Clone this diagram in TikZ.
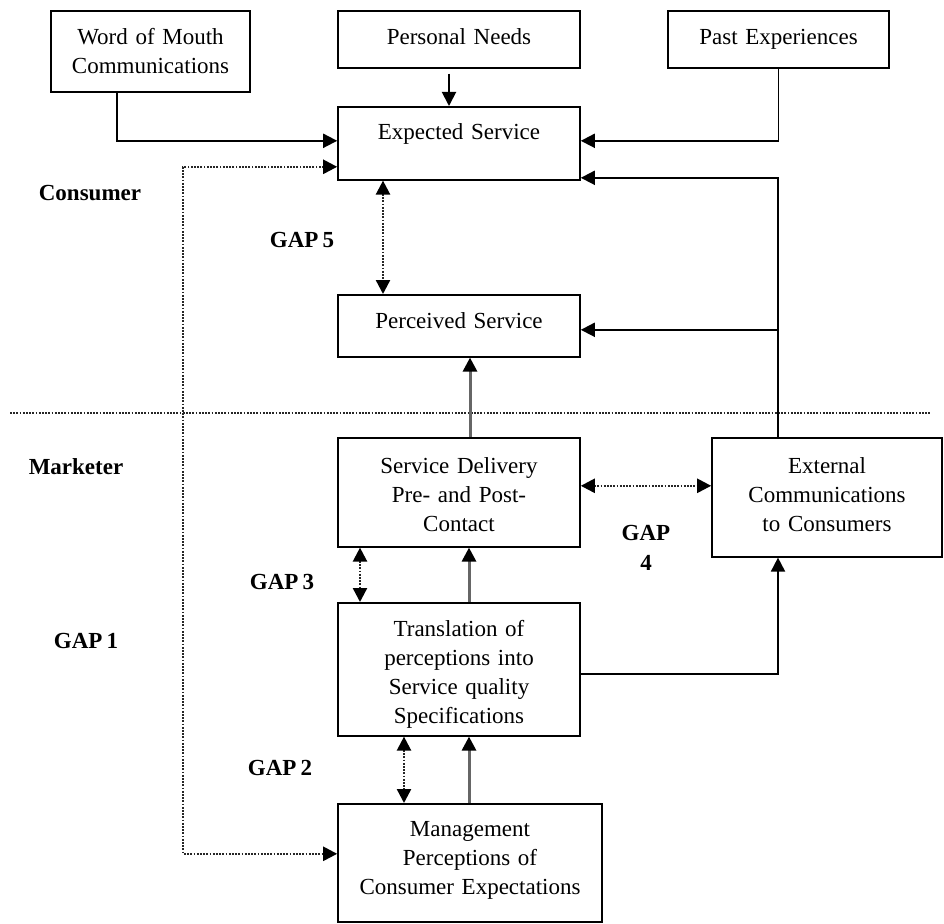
\documentclass[tikz,border=0pt]{standalone}
\usepackage{fontspec}
\setmainfont[WordSpace=0.7]{Liberation Serif}
\usetikzlibrary{arrows.meta,calc}
\begin{document}
\begin{tikzpicture}[x=1pt,y=-1pt,
  every node/.style={font=\fontsize{23}{29}\selectfont},
  box/.style={draw, line width=1.6pt, inner sep=0pt, align=center, anchor=north},
  tag/.style={font=\fontsize{23}{30}\selectfont\bfseries, inner sep=0pt, align=center},
  link/.style={line width=1.9pt, -{Triangle[length=14pt,width=14pt,color=black]}},
  glink/.style={line width=3pt, draw=black!60, -{Triangle[length=14pt,width=14pt,color=black]}},
  dots/.style={line width=2.4pt, draw=black!85, dash pattern=on 1.8pt off 1.4pt},
  gap/.style={dots,
    {Triangle[length=14pt,width=14pt,color=black]}-{Triangle[length=14pt,width=14pt,color=black]}},
]
\useasboundingbox (0,0) rectangle (944,923);

% consumer side
\node[box, text width=199pt, text height=33.5pt, text depth=47.5pt] (wom) at (150.5,10) {Word of Mouth\\Communications};
\node[box, text width=242pt, text height=33.5pt, text depth=23.5pt] (pn) at (459,10) {Personal Needs};
\node[box, text width=221pt, text height=33.5pt, text depth=23.5pt] (pe) at (778.5,10) {Past Experiences};
\node[box, text width=242pt, text height=32.5pt, text depth=40.5pt] (exp) at (459,106) {Expected Service};
\node[box, text width=242pt, text height=33.5pt, text depth=28.5pt] (per) at (459,294) {Perceived Service};

% marketer side
\node[box, text width=242pt, text height=35.5pt, text depth=73.5pt] (sd) at (459,437) {Service Delivery\\Pre- and Post-\\Contact};
\node[box, text width=230pt, text height=35.5pt, text depth=83.5pt] (ext) at (827,437) {External\\Communications\\to Consumers};
\node[box, text width=242pt, text height=33.5pt, text depth=99.5pt] (tr) at (459,602) {Translation of\\perceptions into\\Service quality\\Specifications};
\node[box, text width=264pt, text height=32.5pt, text depth=85.5pt] (mg) at (470,803) {Management\\Perceptions of\\Consumer Expectations};

% labels
\node[tag] (consumer) at (90,193) {Consumer};
\node[tag] (marketer) at (76,467) {Marketer};
\node[tag] (gap5) at (302,240) {GAP 5};
\node[tag] (gap1) at (86,641) {GAP 1};
\node[tag] (gap3) at (282,582) {GAP 3};
\node[tag] (gap2) at (280,768) {GAP 2};
\node[tag] (gap4) at (646,548) {GAP\\4};

% separator between consumer and marketer
\coordinate (sepL) at (10,413);
\coordinate (sepR) at (930,413);
\draw[dots] (sepL) -- (sepR);

% inputs to expected service
\draw[link] ($(wom.south)+(-33.5,0)$) |- ($(exp.west)+(0,-2.5)$);
\draw[link] ($(pn.south)+(-10,5)$) -- ($(exp.north)+(-10,0)$);
\draw[link] (pe.south) |- ($(exp.east)+(0,-2.5)$);
\draw[link] ($(ext.north)+(-49,0)$) |- ($(exp.east)+(0,34.5)$);
\draw[link] ($(ext.north)+(-49,0)$) |- ($(per.east)+(0,4)$);

% gap 5
\draw[gap] ($(exp.south)+(-76,0)$) -- ($(per.north)+(-76,0)$);

% delivery chain
\draw[glink] ($(sd.north)+(11,0)$) -- ($(per.south)+(11,0)$);
\draw[gap] ($(sd.east)+(0,-6.5)$) -- ($(ext.west)+(0,-11.5)$);
\draw[gap] ($(sd.south)+(-99,0)$) -- ($(tr.north)+(-99,0)$);
\draw[glink] ($(tr.north)+(10,0)$) -- ($(sd.south)+(10,0)$);
\draw[link] ($(tr.east)+(0,4.5)$) -| ($(ext.south)+(-49,0)$);
\draw[gap] ($(tr.south)+(-55,0)$) -- ($(mg.north)+(-66,0)$);
\draw[glink] ($(mg.north)+(-1,0)$) -- ($(tr.south)+(10,0)$);

% gap 1
\coordinate (g1) at (183,413);
\draw[gap] ($(exp.west)+(0,23.5)$) -| (g1) |- ($(mg.west)+(0,-9)$);
\end{tikzpicture}
\end{document}
